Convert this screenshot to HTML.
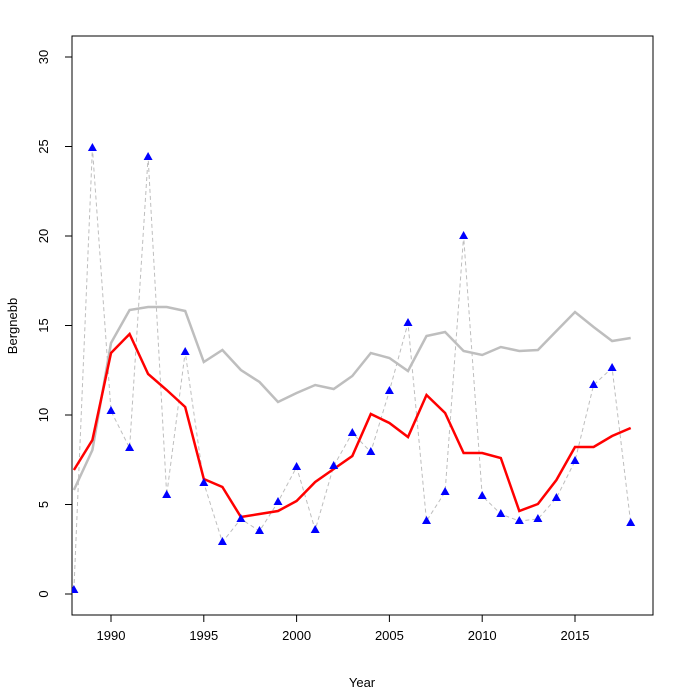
<!DOCTYPE html>
<html><head><meta charset="utf-8"><style>body{margin:0;background:#fff}svg{display:block;font-family:"Liberation Sans",Arial,sans-serif}</style></head><body>
<svg width="689" height="688" viewBox="0 0 689 688" xmlns="http://www.w3.org/2000/svg">
<defs><polygon id="t" points="0,-5 4.5,3 -4.5,3" fill="#0000ff"/></defs>
<rect x="72" y="36" width="581" height="579" fill="none" stroke="#000" stroke-width="1"/>
<g stroke="#000" fill="none">
<path d="M111,615v7M203.8,615v7M296.6,615v7M389.4,615v7M482.2,615v7M575,615v7"/>
<path d="M72,594h-7M72,504.5h-7M72,415h-7M72,325.5h-7M72,236h-7M72,146.5h-7M72,57h-7"/>
</g>
<g font-size="13" text-anchor="middle" fill="#000">
<text x="111" y="640">1990</text><text x="203.8" y="640">1995</text><text x="296.6" y="640">2000</text><text x="389.4" y="640">2005</text><text x="482.2" y="640">2010</text><text x="575" y="640">2015</text>
<text x="362" y="687">Year</text>
</g>
<g font-size="13" text-anchor="middle" fill="#000">
<text transform="translate(48,594) rotate(-90)">0</text>
<text transform="translate(48,504.5) rotate(-90)">5</text>
<text transform="translate(48,415) rotate(-90)">10</text>
<text transform="translate(48,325.5) rotate(-90)">15</text>
<text transform="translate(48,236) rotate(-90)">20</text>
<text transform="translate(48,146.5) rotate(-90)">25</text>
<text transform="translate(48,57) rotate(-90)">30</text>
<text transform="translate(17,326) rotate(-90)">Bergnebb</text>
</g>
<svg x="72" y="36" width="581" height="579" viewBox="72 36 581 579" overflow="hidden">
<polyline fill="none" stroke="#bebebe" stroke-width="1" stroke-dasharray="4,3" points="73.9,590 92.4,148 111,411 129.6,448 148.1,157 166.7,495 185.2,352 203.8,483 222.4,542 240.9,519 259.5,531 278,502 296.6,467 315.2,530 333.7,466 352.3,433 370.8,452 389.4,391 408,323 426.5,521 445.1,492 463.6,236 482.2,496 500.8,514 519.3,521 537.9,519 556.4,498 575,461 593.6,385 612.1,368 630.7,523"/>
<polyline fill="none" stroke="#bebebe" stroke-width="2.5" points="73.9,490 92.4,450 111,343 129.6,310 148.1,307 166.7,307 185.2,311 203.8,362 222.4,350 240.9,370 259.5,382 278,402 296.6,393 315.2,385 333.7,389 352.3,376 370.8,353 389.4,358 408,371 426.5,336 445.1,332 463.6,351 482.2,355 500.8,347 519.3,351 537.9,350 556.4,331 575,312 593.6,327 612.1,341 630.7,338"/>
<polyline fill="none" stroke="#ff0000" stroke-width="2.5" points="73.9,470 92.4,440 111,353 129.6,334 148.1,374 166.7,390 185.2,407 203.8,479 222.4,487 240.9,517 259.5,514 278,511 296.6,501 315.2,482 333.7,469 352.3,456 370.8,414 389.4,423 408,437 426.5,395 445.1,413 463.6,453 482.2,453 500.8,458 519.3,511 537.9,504 556.4,480 575,447 593.6,447 612.1,436 630.7,428"/>
<use href="#t" x="73.9" y="590"/><use href="#t" x="92.4" y="148"/><use href="#t" x="111" y="411"/><use href="#t" x="129.6" y="448"/><use href="#t" x="148.1" y="157"/><use href="#t" x="166.7" y="495"/><use href="#t" x="185.2" y="352"/><use href="#t" x="203.8" y="483"/><use href="#t" x="222.4" y="542"/><use href="#t" x="240.9" y="519"/><use href="#t" x="259.5" y="531"/><use href="#t" x="278" y="502"/><use href="#t" x="296.6" y="467"/><use href="#t" x="315.2" y="530"/><use href="#t" x="333.7" y="466"/><use href="#t" x="352.3" y="433"/><use href="#t" x="370.8" y="452"/><use href="#t" x="389.4" y="391"/><use href="#t" x="408" y="323"/><use href="#t" x="426.5" y="521"/><use href="#t" x="445.1" y="492"/><use href="#t" x="463.6" y="236"/><use href="#t" x="482.2" y="496"/><use href="#t" x="500.8" y="514"/><use href="#t" x="519.3" y="521"/><use href="#t" x="537.9" y="519"/><use href="#t" x="556.4" y="498"/><use href="#t" x="575" y="461"/><use href="#t" x="593.6" y="385"/><use href="#t" x="612.1" y="368"/><use href="#t" x="630.7" y="523"/>
</svg>
</svg>
</body></html>
